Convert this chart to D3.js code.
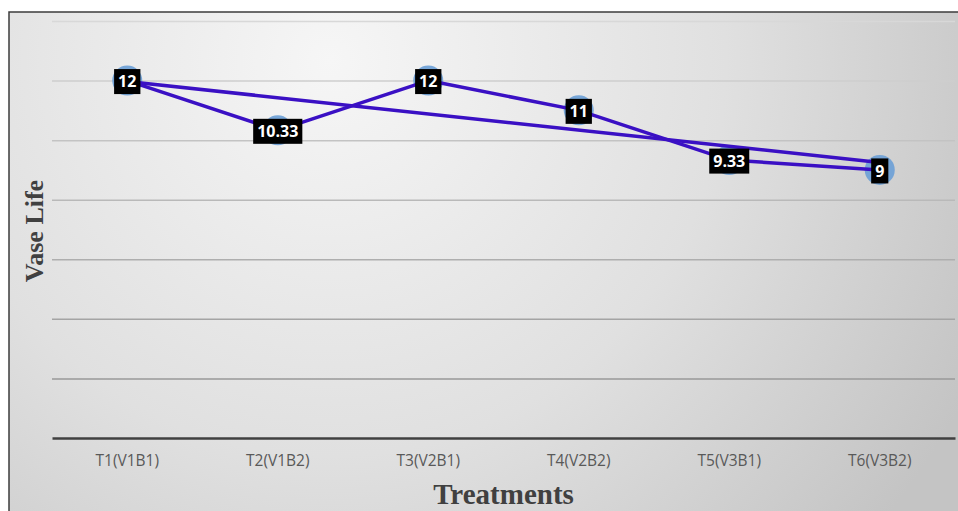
<!DOCTYPE html>
<html>
<head>
<meta charset="utf-8">
<script src="https://cdn.jsdelivr.net/npm/d3@7"></script>
<style>
  html, body { margin: 0; padding: 0; background: #ffffff; }
  svg { display: block; }
</style>
</head>
<body>
<svg id="chart" width="958" height="511"></svg>
<script>
// Treatments and their mean vase life (days)
const categories = ["T1(V1B1)", "T2(V1B2)", "T3(V2B1)", "T4(V2B2)", "T5(V3B1)", "T6(V3B2)"];
const vaseLife = [12, 10.33, 12, 11, 9.33, 9];
const valueLabels = ["12", "10.33", "12", "11", "9.33", "9"];
const yTicks = [0, 2, 4, 6, 8, 10, 12, 14];

const W = 958, H = 511;
const frame = { left: 9, top: 12 };
const plot = { left: 52, right: 955, top: 21, bottom: 438 };

const svg = d3.select("#chart");
const defs = svg.append("defs");

// Chart area background: soft radial shading
const bg = defs.append("radialGradient")
  .attr("id", "bgGrad")
  .attr("gradientUnits", "userSpaceOnUse")
  .attr("cx", 330).attr("cy", 60).attr("r", 720);
bg.append("stop").attr("offset", "0%").attr("stop-color", "#f6f6f6");
bg.append("stop").attr("offset", "55%").attr("stop-color", "#e0e0e0");
bg.append("stop").attr("offset", "100%").attr("stop-color", "#c4c4c4");

svg.append("rect")
  .attr("x", frame.left).attr("y", frame.top)
  .attr("width", W - frame.left).attr("height", H - frame.top)
  .attr("fill", "url(#bgGrad)");

// Frame edges (top and left)
svg.append("path")
  .attr("d", `M${frame.left},${H} V${frame.top} H${W}`)
  .attr("fill", "none")
  .attr("stroke", "#3c3c3c")
  .attr("stroke-width", 1.5);

const x = d3.scaleBand()
  .domain(categories)
  .range([plot.left, plot.right])
  .padding(0);

const y = d3.scaleLinear()
  .domain([0, 14])
  .range([plot.bottom, plot.top]);

const cx = d => x(d) + x.bandwidth() / 2;

// Gridline tone darkens toward the base
const gridTone = d3.scaleLinear().domain([14, 2]).range(["#d8d8d8", "#999999"]);

// Horizontal gridlines
const yAxis = d3.axisLeft(y).tickValues(yTicks.filter(t => t > 0))
  .tickSize(-(plot.right - plot.left)).tickFormat("");
const gy = svg.append("g")
  .attr("transform", `translate(${plot.left},0)`)
  .call(yAxis);
gy.select(".domain").remove();
gy.selectAll(".tick line")
  .attr("stroke", d => gridTone(d))
  .attr("stroke-width", 1.5);

// Category axis
const xAxis = d3.axisBottom(x).tickSize(0).tickPadding(17);
const gx = svg.append("g")
  .attr("transform", `translate(0,${plot.bottom})`)
  .call(xAxis);
gx.select(".domain")
  .attr("stroke", "#404040")
  .attr("stroke-width", 2.5);
gx.selectAll(".tick text")
  .attr("font-family", "'Open Sans', 'Noto Sans', sans-serif")
  .attr("font-size", 15.5)
  .attr("fill", "#595959");

// Axis titles
svg.append("text")
  .attr("transform", `translate(43,${231}) rotate(-90)`)
  .attr("text-anchor", "middle")
  .attr("font-family", "'Liberation Serif', 'DejaVu Serif', serif")
  .attr("font-weight", "bold")
  .attr("font-size", 26)
  .attr("fill", "#404040")
  .text("Vase Life");

svg.append("text")
  .attr("x", (plot.left + plot.right) / 2)
  .attr("y", 504)
  .attr("text-anchor", "middle")
  .attr("font-family", "'Liberation Serif', 'DejaVu Serif', serif")
  .attr("font-weight", "bold")
  .attr("font-size", 29)
  .attr("fill", "#404040")
  .text("Treatments");

const pts = categories.map((c, i) => ({ c, i, v: vaseLife[i], label: valueLabels[i] }));

// Markers sit behind the lines
svg.append("g").selectAll("circle")
  .data(pts).join("circle")
  .attr("cx", d => cx(d.c))
  .attr("cy", d => y(d.v))
  .attr("r", 15)
  .attr("fill", "#6a9fd6")
  .attr("opacity", 0.9);

// Linear trendline (least squares over treatment index)
const n = pts.length;
const mx = d3.mean(pts, d => d.i);
const my = d3.mean(pts, d => d.v);
const slope = d3.sum(pts, d => (d.i - mx) * (d.v - my)) / d3.sum(pts, d => (d.i - mx) ** 2);
const fit = i => my + slope * (i - mx);
svg.append("line")
  .attr("x1", cx(categories[0])).attr("y1", y(fit(0)))
  .attr("x2", cx(categories[n - 1])).attr("y2", y(fit(n - 1)))
  .attr("stroke", "#3a10c4")
  .attr("stroke-width", 3.5)
  .attr("stroke-linecap", "round");

// Data line
const line = d3.line().x(d => cx(d.c)).y(d => y(d.v));
svg.append("path")
  .datum(pts)
  .attr("d", line)
  .attr("fill", "none")
  .attr("stroke", "#3a10c4")
  .attr("stroke-width", 3.5)
  .attr("stroke-linejoin", "round");

// Value labels: white text on black boxes
const lg = svg.append("g").selectAll("g")
  .data(pts).join("g")
  .attr("transform", d => `translate(${cx(d.c)},${y(d.v) + 1})`);
lg.append("text")
  .attr("text-anchor", "middle")
  .attr("dy", "0.36em")
  .attr("font-family", "'Open Sans', 'Noto Sans', sans-serif")
  .attr("font-weight", "bold")
  .attr("font-size", 16)
  .attr("fill", "#ffffff")
  .text(d => d.label)
  .each(function () {
    const b = this.getBBox();
    d3.select(this.parentNode).insert("rect", "text")
      .attr("x", b.x - 4).attr("y", -12.5)
      .attr("width", b.width + 8).attr("height", 25)
      .attr("fill", "#000000");
  });
</script>
</body>
</html>
